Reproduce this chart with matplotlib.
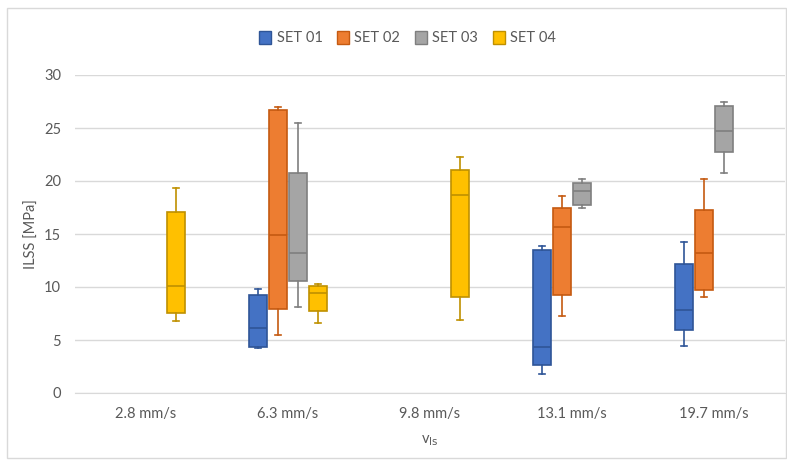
import numpy as np
import matplotlib.pyplot as plt
from matplotlib.patches import Patch, Rectangle

plt.rcParams['font.family'] = ['Lato', 'DejaVu Sans']

categories = ['2.8 mm/s', '6.3 mm/s', '9.8 mm/s', '13.1 mm/s', '19.7 mm/s']
series = ['SET 01', 'SET 02', 'SET 03', 'SET 04']

# per category: (whisker low, q1, median, q3, whisker high); None = no data
set01 = [None, (4.25, 4.34, 6.17, 9.22, 9.79), None,
         (1.79, 2.68, 4.34, 13.53, 13.91), (4.47, 5.98, 7.81, 12.15, 14.23)]
set02 = [None, (5.51, 7.96, 14.89, 26.69, 27.0), None,
         (7.27, 9.22, 15.68, 17.5, 18.57), (9.07, 9.69, 13.22, 17.31, 20.18)]
set03 = [None, (8.12, 10.58, 13.22, 20.71, 25.5), None,
         (17.5, 17.72, 19.07, 19.77, 20.18), (20.71, 22.69, 24.71, 27.07, 27.45)]
set04 = [(6.80, 7.59, 10.10, 17.09, 19.33), (6.61, 7.74, 9.47, 10.07, 10.32),
         (6.86, 9.07, 18.67, 21.06, 22.22), None, None]

fills = ['#4472C4', '#ED7D31', '#A5A5A5', '#FFC000']
edges = ['#2F5597', '#C55A11', '#7F7F7F', '#BF9000']
offsets = [-0.21, -0.07, 0.07, 0.21]
box_w = 0.13

fig = plt.figure(figsize=(7.87, 4.62), dpi=100)
ax = fig.add_axes([75 / 787, 69 / 462, 710 / 787, 318 / 462])

for s, data in enumerate([set01, set02, set03, set04]):
    stats, pos = [], []
    for i, d in enumerate(data):
        if d is None:
            continue
        lo, q1, med, q3, hi = d
        stats.append(dict(whislo=lo, q1=q1, med=med, q3=q3, whishi=hi, fliers=[]))
        pos.append(i + offsets[s])
    ec = edges[s]
    ax.bxp(stats, positions=pos, widths=box_w, capwidths=0.045, patch_artist=True,
           showfliers=False, manage_ticks=False,
           boxprops=dict(facecolor=fills[s], edgecolor=ec, linewidth=1.2),
           medianprops=dict(color=ec, linewidth=1.2),
           whiskerprops=dict(color=ec, linewidth=1.2),
           capprops=dict(color=ec, linewidth=1.2))

ax.set_xlim(-0.5, 4.5)
ax.set_ylim(0, 30)
ax.set_yticks(np.arange(0, 31, 5))
ax.set_xticks(range(len(categories)))
ax.set_xticklabels(categories)
ax.yaxis.grid(True, color='#D9D9D9', linewidth=1)
ax.set_axisbelow(True)
for sp in ['top', 'right', 'left']:
    ax.spines[sp].set_visible(False)
ax.spines['bottom'].set_color('#D9D9D9')
ax.tick_params(length=0, labelsize=10.5, colors='#595959', pad=10)
ax.tick_params(axis='x', pad=10)
ax.set_ylabel('ILSS [MPa]', fontsize=10.5, color='#595959', labelpad=4)
ax.set_xlabel(r'v$_{\mathrm{ls}}$', fontsize=10.5, color='#595959', labelpad=9)

handles = [Patch(facecolor=fills[i], edgecolor=edges[i], label=series[i]) for i in range(4)]
fig.legend(handles=handles, loc='center', bbox_to_anchor=(0.518, 1 - 38 / 462), ncol=4,
           frameon=False, fontsize=10.5, handlelength=0.8, handleheight=1.0,
           columnspacing=1.0, handletextpad=0.4, labelcolor='#595959')

fig.patches.append(Rectangle((7 / 787, 4 / 462), 779 / 787, 450 / 462, transform=fig.transFigure,
                             fill=False, edgecolor='#D9D9D9', linewidth=1))

fig.savefig('out.png', dpi=100)
